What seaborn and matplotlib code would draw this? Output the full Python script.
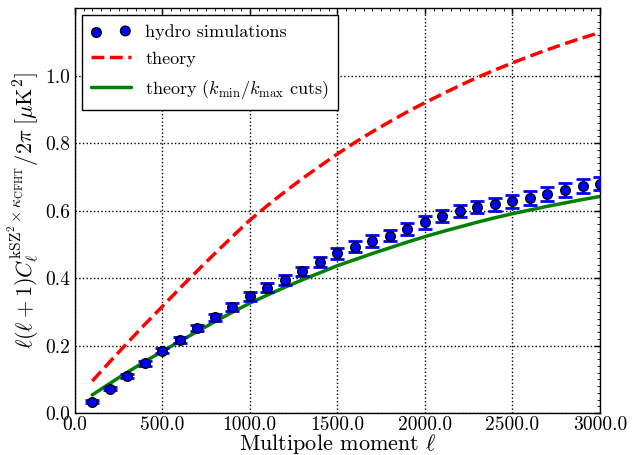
import numpy as np
import pandas as pd
import seaborn as sns
import matplotlib
matplotlib.use("Agg")
import matplotlib.pyplot as plt
from matplotlib.ticker import FormatStrFormatter, MultipleLocator

# multipoles of the simulation bins
ell = [100, 200, 300, 400, 500, 600, 700, 800, 900, 1000,
       1100, 1200, 1300, 1400, 1500, 1600, 1700, 1800, 1900, 2000,
       2100, 2200, 2300, 2400, 2500, 2600, 2700, 2800, 2900, 3000]

# hydro simulations, l(l+1)C_l/2pi [uK^2]
hydro = [0.034, 0.073, 0.111, 0.148, 0.185, 0.216, 0.252, 0.284, 0.315, 0.346,
         0.372, 0.395, 0.420, 0.448, 0.474, 0.493, 0.510, 0.526, 0.545, 0.565,
         0.583, 0.599, 0.611, 0.619, 0.628, 0.637, 0.649, 0.661, 0.673, 0.680]
hydro_err = [0.004, 0.005, 0.006, 0.007, 0.008, 0.009, 0.010, 0.011, 0.012, 0.013,
             0.014, 0.014, 0.014, 0.015, 0.016, 0.016, 0.017, 0.017, 0.018, 0.018,
             0.018, 0.019, 0.019, 0.019, 0.019, 0.020, 0.020, 0.020, 0.020, 0.020]

# full theory prediction
theory = [0.095, 0.152, 0.208, 0.263, 0.316, 0.370, 0.422, 0.473, 0.523, 0.572,
          0.615, 0.656, 0.695, 0.732, 0.768, 0.802, 0.834, 0.864, 0.893, 0.920,
          0.946, 0.971, 0.995, 1.017, 1.038, 1.058, 1.077, 1.095, 1.112, 1.128]

# theory with kmin/kmax cuts
theory_cut = [0.054, 0.088, 0.121, 0.153, 0.183, 0.213, 0.242, 0.271, 0.299, 0.326,
              0.350, 0.373, 0.395, 0.416, 0.437, 0.455, 0.473, 0.490, 0.507, 0.523,
              0.538, 0.552, 0.566, 0.579, 0.591, 0.602, 0.613, 0.623, 0.633, 0.642]

df = pd.DataFrame({"ell": ell, "hydro": hydro, "err": hydro_err,
                   "theory": theory, "theory_cut": theory_cut})

sns.set_theme(style="white")
plt.rcParams.update({
    "font.family": "serif",
    "font.serif": ["cmr10", "DejaVu Serif"],
    "mathtext.fontset": "cm",
    "axes.formatter.use_mathtext": True,
    "axes.edgecolor": "black",
    "axes.linewidth": 1.0,
    "xtick.direction": "in",
    "ytick.direction": "in",
    "xtick.top": True,
    "ytick.right": True,
    "xtick.color": "black",
    "ytick.color": "black",
    "text.color": "black",
    "axes.labelcolor": "black",
})

fig = plt.figure(figsize=(6.39, 4.55), dpi=100)
ax = fig.add_axes([0.117, 0.092, 0.822, 0.890])

ax.errorbar(df["ell"], df["hydro"], yerr=df["err"], fmt="none",
            ecolor="blue", elinewidth=2, capsize=5, capthick=2, zorder=3)
sns.scatterplot(data=df, x="ell", y="hydro", ax=ax, color="blue",
                edgecolor="black", linewidth=1, s=48, zorder=4,
                label="hydro simulations")
sns.lineplot(data=df, x="ell", y="theory", ax=ax, color="red",
             linestyle="--", linewidth=2.5, dashes=(3, 2.2),
             label="theory")
sns.lineplot(data=df, x="ell", y="theory_cut", ax=ax, color="green",
             linewidth=2.5,
             label=r"theory ($k_{\rm min}/k_{\rm max}$ cuts)")

ax.set_xlim(0, 3000)
ax.set_ylim(0, 1.2)
ax.set_xticks(np.arange(0, 3001, 500))
ax.set_yticks(np.arange(0, 1.01, 0.2))
ax.xaxis.set_major_formatter(FormatStrFormatter("%.1f"))
ax.yaxis.set_major_formatter(FormatStrFormatter("%.1f"))
ax.yaxis.set_minor_locator(MultipleLocator(0.02))
ax.xaxis.set_minor_locator(MultipleLocator(50))
ax.tick_params(which="major", length=4, width=1, labelsize=14)
ax.tick_params(axis="x", which="major", pad=2)
ax.tick_params(which="minor", length=2, width=0.6)
ax.grid(True, which="major", color="black", linestyle=":", linewidth=1)

ax.set_xlabel(r"Multipole moment $\ell$", fontsize=16, labelpad=-1)
ax.set_ylabel(r"$\ell(\ell+1)C_\ell^{\rm kSZ^2\times\kappa_{\rm CFHT}}/2\pi\;[\mu{\rm K}^2]$",
              fontsize=16, labelpad=2)

leg = ax.legend(loc="upper left", fontsize=13, scatterpoints=2, fancybox=False,
                handlelength=2.2, borderaxespad=0.4, labelspacing=0.6,
                borderpad=0.5)
leg.get_frame().set_edgecolor("black")
leg.get_frame().set_linewidth(1.0)
leg.get_frame().set_alpha(1)

fig.savefig("out.png", dpi=100)
